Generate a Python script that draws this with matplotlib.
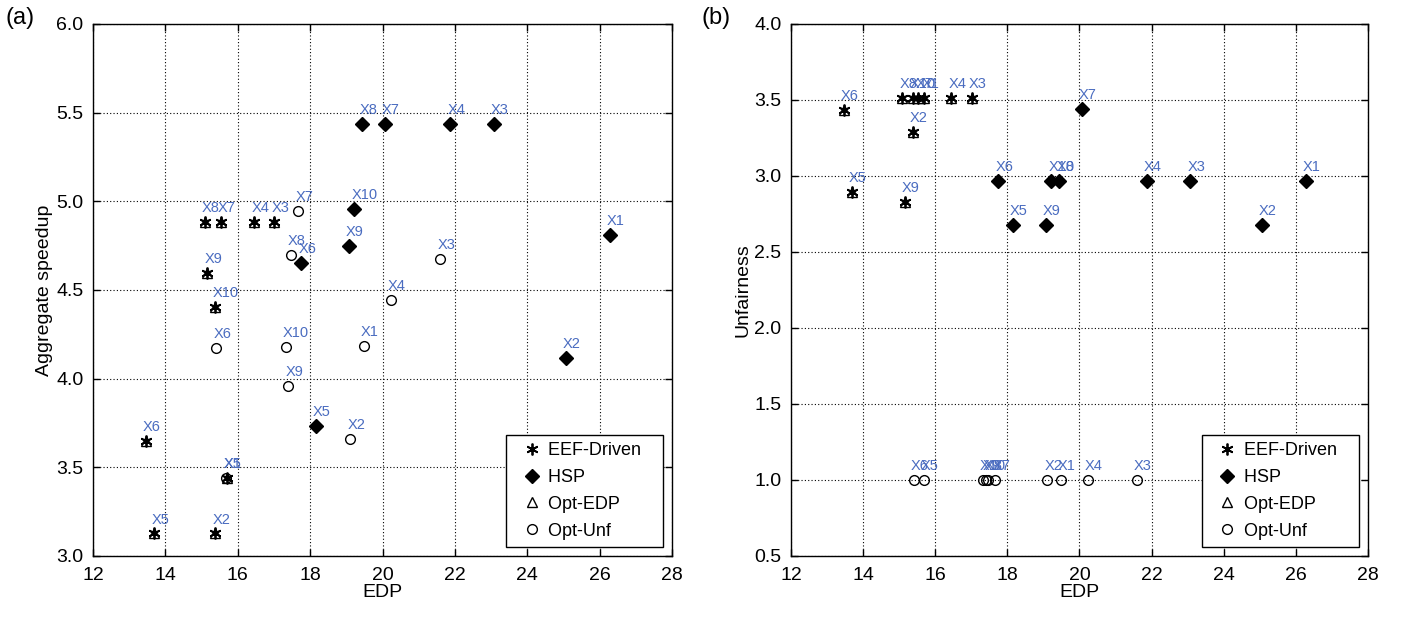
import matplotlib
matplotlib.use('Agg')
import matplotlib.pyplot as plt
from matplotlib.lines import Line2D

plt.rcParams['font.family'] = ['Liberation Sans', 'DejaVu Sans']

config_labels = ['X1', 'X2', 'X3', 'X4', 'X5', 'X6', 'X7', 'X8', 'X9', 'X10']
method_names = ['EEF-Driven', 'HSP', 'Opt-EDP', 'Opt-Unf']

# EEF-Driven
eef_edp = [15.69, 15.37, 17.01, 16.45, 13.69, 13.46, 15.53, 15.09, 15.16, 15.37]
eef_speedup = [3.44, 3.127, 4.885, 4.885, 3.127, 3.648, 4.885, 4.885, 4.597, 4.406]
eef_unfair = [3.515, 3.287, 3.515, 3.515, 2.895, 3.434, 3.515, 3.515, 2.829, 3.515]

# HSP
hsp_edp = [26.28, 25.06, 23.07, 21.87, 18.15, 17.75, 20.06, 19.44, 19.07, 19.22]
hsp_speedup = [4.808, 4.118, 5.436, 5.436, 3.733, 4.65, 5.436, 5.436, 4.75, 4.958]
hsp_unfair = [2.967, 2.678, 2.967, 2.967, 2.678, 2.967, 3.439, 2.967, 2.678, 2.967]

# Opt-EDP (coincides with EEF-Driven)
optedp_edp = [15.69, 15.37, 17.01, 16.45, 13.69, 13.46, 15.53, 15.09, 15.16, 15.37]
optedp_speedup = [3.44, 3.127, 4.885, 4.885, 3.127, 3.648, 4.885, 4.885, 4.597, 4.406]
optedp_unfair = [3.515, 3.287, 3.515, 3.515, 2.895, 3.434, 3.515, 3.515, 2.829, 3.515]

# Opt-Unf
optunf_edp = [19.48, 19.11, 21.59, 20.23, 15.68, 15.40, 17.67, 17.46, 17.40, 17.32]
optunf_speedup = [4.184, 3.661, 4.675, 4.443, 3.44, 4.174, 4.947, 4.697, 3.958, 4.18]
optunf_unfair = [1.0, 1.0, 1.0, 1.0, 1.0, 1.0, 1.0, 1.0, 1.0, 1.0]

x_ticks = [12, 14, 16, 18, 20, 22, 24, 26, 28]
speedup_ticks = [3.0, 3.5, 4.0, 4.5, 5.0, 5.5, 6.0]
unfair_ticks = [0.5, 1.0, 1.5, 2.0, 2.5, 3.0, 3.5, 4.0]

LABEL_BLUE = '#4a6cc0'
ASTERISK = (6, 2, 0)


def draw_panel(ax, eef_y, hsp_y, optedp_y, optunf_y, yticks, ylabel):
    ax.plot(optedp_edp, optedp_y, linestyle='none', marker='^', markersize=7,
            markerfacecolor='white', markeredgecolor='k', markeredgewidth=1.0)
    ax.plot(eef_edp, eef_y, linestyle='none', marker=ASTERISK, markersize=8.5,
            color='k', markeredgewidth=1.3)
    ax.plot(hsp_edp, hsp_y, linestyle='none', marker='D', markersize=7,
            color='k')
    ax.plot(optunf_edp, optunf_y, linestyle='none', marker='o', markersize=7,
            markerfacecolor='none', markeredgecolor='k', markeredgewidth=1.0)

    for xs, ys in [(eef_edp, eef_y), (hsp_edp, hsp_y), (optunf_edp, optunf_y)]:
        for lab, x, y in zip(config_labels, xs, ys):
            ax.annotate(lab, (x, y), xytext=(-2, 5), textcoords='offset points',
                        ha='left', va='bottom', color=LABEL_BLUE, fontsize=10.5)

    ax.set_xlim(12, 28)
    ax.set_ylim(yticks[0], yticks[-1])
    ax.set_xticks(x_ticks)
    ax.set_yticks(yticks)
    ax.set_yticklabels(['%.1f' % t for t in yticks])
    ax.grid(True, color='k', linestyle=(0, (1, 2)), linewidth=0.8)
    ax.tick_params(direction='in', top=True, right=True, length=5,
                   labelsize=14, width=1)
    ax.tick_params(axis='y', pad=7)
    ax.tick_params(axis='x', pad=8)
    for sp in ax.spines.values():
        sp.set_linewidth(1.0)
    ax.set_xlabel('EDP', fontsize=14, labelpad=0)
    ax.set_ylabel(ylabel, fontsize=14, labelpad=2)

    handles = [
        Line2D([], [], linestyle='none', marker=ASTERISK, markersize=8.5, color='k',
               markeredgewidth=1.3),
        Line2D([], [], linestyle='none', marker='D', markersize=7, color='k'),
        Line2D([], [], linestyle='none', marker='^', markersize=7,
               markerfacecolor='white', markeredgecolor='k'),
        Line2D([], [], linestyle='none', marker='o', markersize=7,
               markerfacecolor='none', markeredgecolor='k'),
    ]
    # trailing spaces give the wide right margin of the original legend box
    leg = ax.legend(handles, [m + '   ' for m in method_names],
                    loc='lower right', fontsize=13, fancybox=False,
                    edgecolor='k', framealpha=1, borderaxespad=0.5,
                    handlelength=2.0, handletextpad=-0.1, labelspacing=0.55,
                    borderpad=0.4)
    leg.get_frame().set_linewidth(1.0)


fig = plt.figure(figsize=(14.01, 6.21), dpi=100)
ax_a = fig.add_axes([0.0664, 0.1047, 0.4133, 0.8567])
ax_b = fig.add_axes([0.5646, 0.1047, 0.4118, 0.8567])

draw_panel(ax_a, eef_speedup, hsp_speedup, optedp_speedup, optunf_speedup,
           speedup_ticks, 'Aggregate speedup')
draw_panel(ax_b, eef_unfair, hsp_unfair, optedp_unfair, optunf_unfair,
           unfair_ticks, 'Unfairness')

fig.text(0.004, 0.988, '(a)', fontsize=17, va='top')
fig.text(0.501, 0.988, '(b)', fontsize=17, va='top')

fig.savefig('out.png', dpi=100)
